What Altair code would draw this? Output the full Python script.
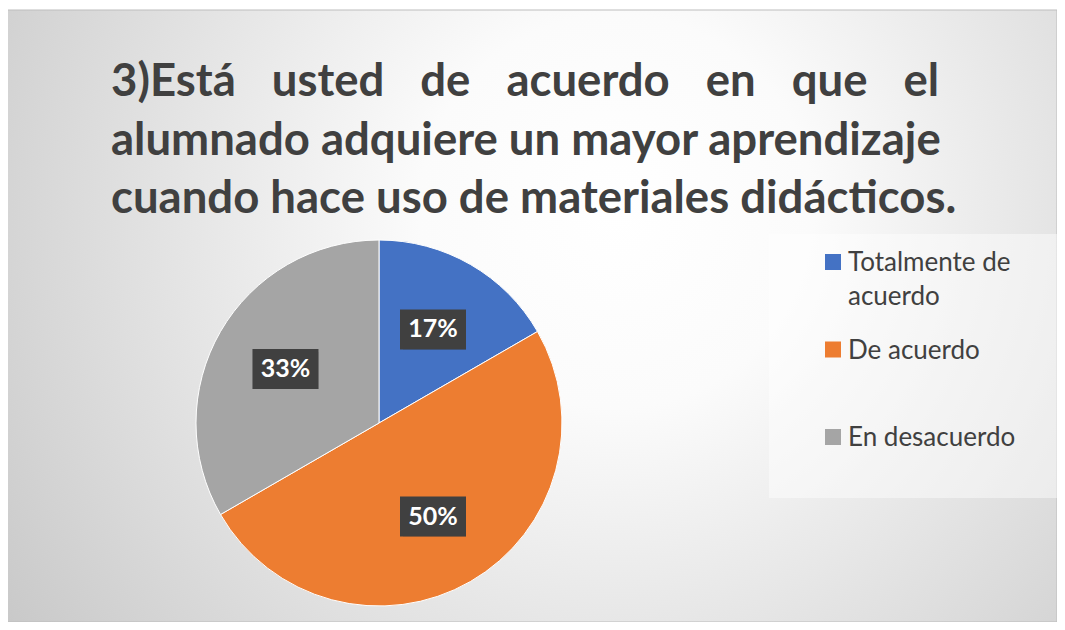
import altair as alt
import pandas as pd

# ---- data ----
categories = ["Totalmente de acuerdo", "De acuerdo", "En desacuerdo"]
values = [1, 3, 2]
legend_labels = ["Totalmente de\nacuerdo", "De acuerdo", "En desacuerdo"]
colors = ["#4472C4", "#ED7D31", "#A5A5A5"]

GAP = "\u00a0" * 3 + "\u200a"
title_lines = [
    GAP.join(["3)Está", "usted", "de", "acuerdo", "en", "que", "el"]),
    "alumnado adquiere un mayor aprendizaje",
    "cuando hace uso de materiales didácticos.",
]

# ---- layout ----
W, H = 1049, 614
CX, CY = 371, 415
R_PIE = 183
R_LAB = 108
FONT = "Lato"
TXT = "#404040"

df = pd.DataFrame({
    "category": categories,
    "value": values,
    "idx": list(range(len(categories))),
    "legend": legend_labels,
})
one = pd.DataFrame({"k": [0]})

color = alt.Color("category:N", scale=alt.Scale(domain=categories, range=colors), legend=None)
base = alt.Chart(df)

gradient = {
    "gradient": "radial",
    "x1": 0.58, "y1": 0.4, "r1": 0,
    "x2": 0.58, "y2": 0.4, "r2": 0.75,
    "stops": [
        {"offset": 0, "color": "#ffffff"},
        {"offset": 0.25, "color": "#fbfbfb"},
        {"offset": 1, "color": "#c4c4c4"},
    ],
}

bg = alt.Chart(one).mark_rect(fill=gradient, stroke="#bdbdbd", strokeWidth=1).encode(
    x=alt.value(-1), x2=alt.value(W), y=alt.value(2), y2=alt.value(H)
)

legbg = alt.Chart(one).mark_rect(fill="white", opacity=0.45).encode(
    x=alt.value(761), x2=alt.value(W), y=alt.value(226), y2=alt.value(490)
)

pie = base.mark_arc(radius=R_PIE, stroke="white", strokeWidth=1).encode(
    theta=alt.Theta("value:Q", stack=True),
    order=alt.Order("idx:Q"),
    color=color,
    x=alt.value(CX),
    y=alt.value(CY),
)

pos = base.transform_joinaggregate(total="sum(value)").transform_window(
    cum="sum(value)", sort=[alt.SortField("idx")], frame=[None, 0]
).transform_calculate(
    mid="(datum.cum - datum.value/2) / datum.total * 2 * PI",
    lx=f"{CX} + {R_LAB} * sin(datum.mid)",
    ly=f"{CY} - {R_LAB} * cos(datum.mid)",
    pct="format(datum.value / datum.total, '.0%')",
    bx1="datum.lx - 33",
    bx2="datum.lx + 33",
    by1="datum.ly - 20",
    by2="datum.ly + 20",
)

box_enc = dict(
    x=alt.X("bx1:Q", scale=None), x2="bx2:Q",
    y=alt.Y("by1:Q", scale=None), y2="by2:Q",
)
shadow = pos.mark_rect(fill="black", opacity=0.18, xOffset=3, yOffset=3).encode(**box_enc)
boxes = pos.mark_rect(fill="#404040").encode(**box_enc)
labels = pos.mark_text(
    font=FONT, fontWeight="bold", fontSize=25, color="white", align="center", baseline="middle"
).encode(x=alt.X("lx:Q", scale=None), y=alt.Y("ly:Q", scale=None), text="pct:N")

leg_y = alt.Y(
    "category:N",
    scale=alt.Scale(type="point", domain=categories, range=[254, 429], padding=0),
    axis=None,
)
squares = base.mark_square(size=256, opacity=1).encode(x=alt.value(825), y=leg_y, color=color)
legtext = base.mark_text(
    font=FONT, fontSize=26, color=TXT, align="left", baseline="alphabetic",
    dy=9, lineBreak="\n", lineHeight=34,
).encode(x=alt.value(840), y=leg_y, text="legend:N")

title = alt.Chart(one).mark_text(
    text=title_lines, font=FONT, fontWeight="bold", fontSize=45.5, color=TXT,
    align="left", baseline="alphabetic", lineHeight=58.5,
).encode(x=alt.value(103), y=alt.value(88))

chart = alt.layer(bg, legbg, pie, shadow, boxes, labels, squares, legtext, title).properties(
    width=W, height=H, autosize=alt.AutoSizeParams(type="none"), padding=0
).configure_view(strokeWidth=0)

chart.save("out.html", embed_options={"renderer": "svg", "actions": False})
